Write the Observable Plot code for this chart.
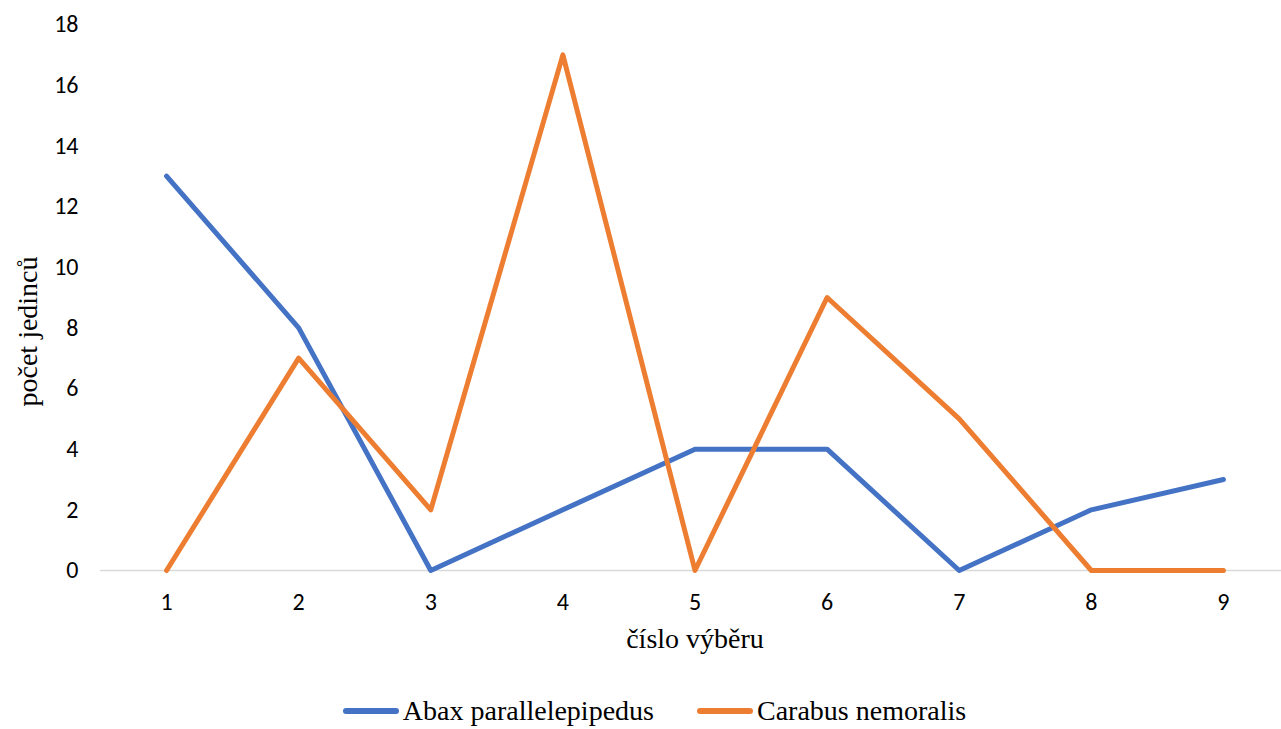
<!DOCTYPE html>
<html><head><meta charset="utf-8">
<script src="https://cdn.jsdelivr.net/npm/d3@7"></script>
<script src="https://cdn.jsdelivr.net/npm/@observablehq/plot@0.6"></script>
</head>
<body style="margin:0;background:#fff"><div id="chart" style="height:692px"></div>
<div id="legend" style="display:flex;justify-content:center;align-items:center;gap:43px;height:37px;margin-left:28px;font-family:'Liberation Serif';font-size:28px;color:#000"></div>
<script>
const samples = [1,2,3,4,5,6,7,8,9];
const seriesNames = ["Abax parallelepipedus","Carabus nemoralis"];
const abax = [13,8,0,2,4,4,0,2,3];
const carabus = [0,7,2,17,0,9,5,0,0];
const yTicks = [0,2,4,6,8,10,12,14,16,18];
const colors = ["#4472C4","#ED7D31"];
const xTitle = "číslo výběru";
const yTitle = "počet jedinců";

const data = [];
samples.forEach((s,i)=>{
  data.push({sample:s, count:abax[i], series:seriesNames[0]});
  data.push({sample:s, count:carabus[i], series:seriesNames[1]});
});

const chart = Plot.plot({
  width:1281, height:692,
  marginLeft:100, marginRight:0, marginTop:24, marginBottom:122,
  x:{type:"linear", domain:[0.5,9.5], range:[100,1289]},
  y:{domain:[0,18], range:[570,24]},
  color:{domain:seriesNames, range:colors},
  style:{fontFamily:"Carlito", fontSize:"24px", color:"#000"},
  marks:[
    Plot.ruleY([0],{stroke:"#d9d9d9", strokeWidth:1.5}),
    Plot.axisY(yTicks,{tickSize:0, tickPadding:22, fontSize:24, label:null, tickFormat:d=>String(d), className:"tk"}),
    Plot.axisX(samples,{tickSize:0, tickPadding:22, fontSize:24, label:null, tickFormat:d=>String(d), className:"tk"}),
    Plot.line(data,{x:"sample", y:"count", z:"series", stroke:"series", strokeWidth:5, strokeLinejoin:"round", strokeLinecap:"round"}),
    Plot.text([xTitle],{x:()=>5.0, y:()=>0, dy:69, fontSize:28, text:d=>d, className:"ttl"}),
    Plot.text([yTitle],{x:()=>0.5, y:()=>7.88, dx:-72, rotate:-90, fontSize:28, text:d=>d, className:"ttl"})
  ]
});
document.getElementById("chart").appendChild(chart);
d3.select(chart).selectAll(".ttl text").style("font-family","'Liberation Serif'");
d3.select(chart).selectAll(".tk text").style("font-family","Carlito");
const lg = document.getElementById("legend");
seriesNames.forEach((n,i)=>{
  const it = document.createElement("div");
  it.style.cssText="display:flex;align-items:center;font-family:'Liberation Serif';font-size:28px";
  it.innerHTML = `<span style="display:inline-block;width:56px;height:6px;border-radius:3px;margin-right:4px;background:${colors[i]}"></span><span style="font-family:'Liberation Serif'">${n}</span>`;
  lg.appendChild(it);
});
</script></body></html>
